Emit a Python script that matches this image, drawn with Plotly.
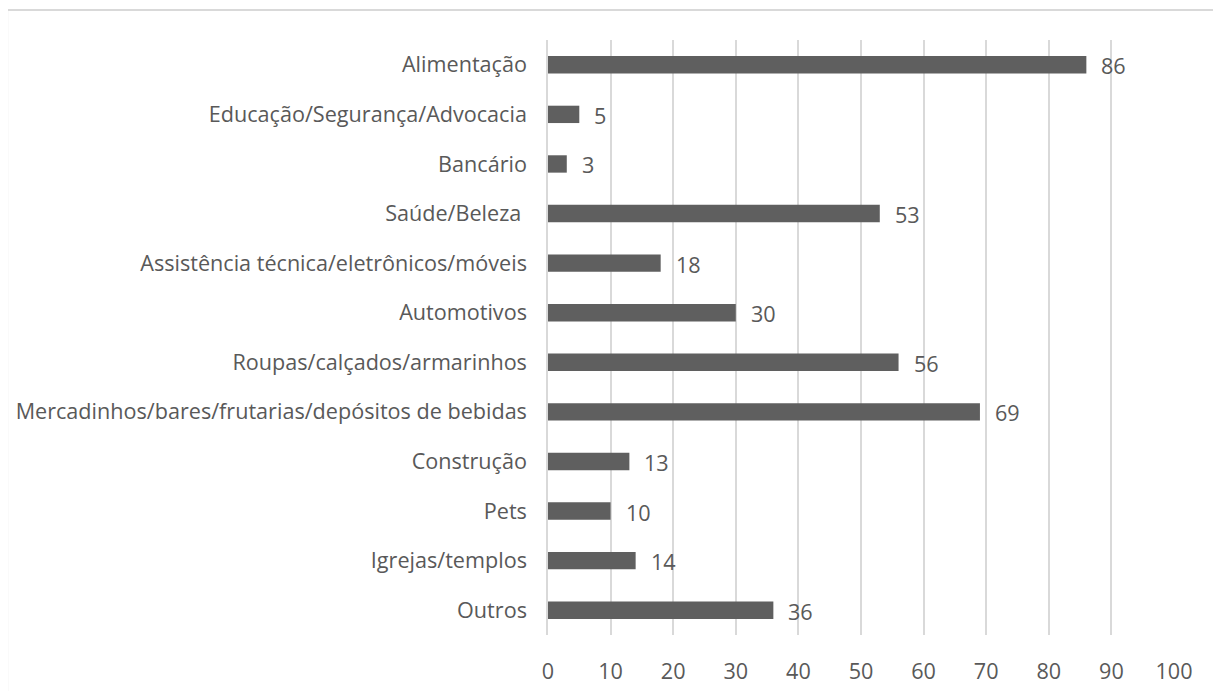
import plotly.graph_objects as go

# categories top to bottom
categories = [
    "Alimentação",
    "Educação/Segurança/Advocacia",
    "Bancário",
    "Saúde/Beleza ",
    "Assistência técnica/eletrônicos/móveis",
    "Automotivos",
    "Roupas/calçados/armarinhos",
    "Mercadinhos/bares/frutarias/depósitos de bebidas",
    "Construção",
    "Pets",
    "Igrejas/templos",
    "Outros",
]
values = [86, 5, 3, 53, 18, 30, 56, 69, 13, 10, 14, 36]
x_ticks = list(range(0, 101, 10))

text_gray = "#595959"
bar_gray = "#5f5f5f"
grid_gray = "#d9d9d9"
font_family = "'Open Sans', sans-serif"
font_size = 21.6

fig = go.Figure()

fig.add_trace(go.Bar(
    x=values,
    y=categories,
    orientation="h",
    marker=dict(color=bar_gray, line=dict(width=0)),
    width=0.35,
    hoverinfo="x+y",
))

# data labels to the right of each bar
for cat, v in zip(categories, values):
    fig.add_annotation(
        x=v, y=cat,
        text=str(v),
        showarrow=False,
        xanchor="left",
        xshift=13,
        yshift=-1,
        font=dict(size=font_size, color=text_gray, family=font_family),
    )

# outer chart border
fig.add_shape(
    type="rect", xref="paper", yref="paper",
    x0=-0.864, x1=1.0735, y0=-0.12, y1=1.0504,
    line=dict(color=grid_gray, width=2),
    fillcolor="rgba(0,0,0,0)",
    layer="below",
)

# the page adds an 8px body margin, so the figure is sized to fit inside it
fig.update_layout(
    width=1213,
    height=683,
    margin=dict(l=540, r=47, t=32, b=56, autoexpand=False),
    paper_bgcolor="white",
    plot_bgcolor="white",
    showlegend=False,
    font=dict(family=font_family, size=font_size, color=text_gray),
    xaxis=dict(
        range=[0, 100],
        tickvals=x_ticks,
        showgrid=True,
        gridcolor=grid_gray,
        gridwidth=1.5,
        zeroline=False,
        showline=False,
        ticks="",
        ticklabelstandoff=21,
        tickfont=dict(size=font_size, color=text_gray),
        automargin=False,
        fixedrange=True,
    ),
    yaxis=dict(
        categoryorder="array",
        categoryarray=categories[::-1],
        showgrid=False,
        zeroline=False,
        showline=True,
        linecolor=grid_gray,
        linewidth=1.5,
        ticks="",
        ticklabelstandoff=15,
        tickfont=dict(size=font_size, color=text_gray),
        automargin=False,
        fixedrange=True,
    ),
    bargap=0.65,
)

fig.write_html("out.html")
